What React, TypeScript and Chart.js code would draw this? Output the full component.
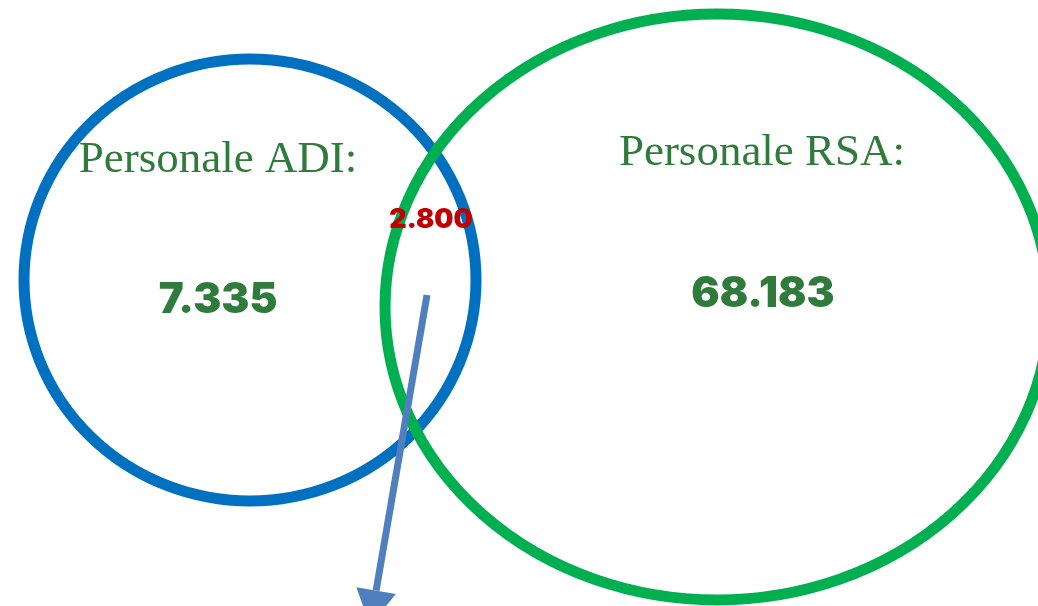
import React, { useEffect, useRef } from "react";
import { Chart, registerables } from "chart.js";

Chart.register(...registerables);

// ---- data ----
const setLabels = ["Personale ADI:", "Personale RSA:"];
const setCounts = [7335, 68183];
const overlapCount = 2800;
// ellipse geometry in chart units (x: 0..1038, y: 0..606 top-down)
const centerX = [250, 717];
const centerY = [280, 307];
const radiusX = [226, 332];
const radiusY = [221, 293];
const setColors = ["#0070C0", "#00B050"];
// label anchors
const titleX = [218, 762];
const titleY = [172, 165];
const countX = [218, 763];
const countY = [313, 307];
const overlapX = [431];
const overlapY = [228];
// arrow
const arrowStart = [427, 295];
const arrowEnd = [370, 626];

const fmt = (n: number) => String(n).replace(/\B(?=(\d{3})+(?!\d))/g, ".");

const vennPlugin = {
  id: "venn",
  afterDatasetsDraw(chart: any) {
    const ctx = chart.ctx;
    const xs = chart.scales.x;
    const ys = chart.scales.y;
    ctx.save();
    // ellipses
    for (let i = 0; i < centerX.length; i++) {
      const cx = xs.getPixelForValue(centerX[i]);
      const cy = ys.getPixelForValue(centerY[i]);
      const rx = Math.abs(xs.getPixelForValue(centerX[i] + radiusX[i]) - cx);
      const ry = Math.abs(ys.getPixelForValue(centerY[i] + radiusY[i]) - cy);
      ctx.beginPath();
      ctx.ellipse(cx, cy, rx, ry, 0, 0, Math.PI * 2);
      ctx.strokeStyle = setColors[i];
      ctx.lineWidth = 11;
      ctx.stroke();
    }
    // titles
    ctx.fillStyle = "#2E7B3B";
    ctx.textAlign = "center";
    ctx.textBaseline = "alphabetic";
    ctx.font = '45px "Liberation Serif", "Times New Roman", serif';
    for (let i = 0; i < setLabels.length; i++) {
      ctx.fillText(setLabels[i], xs.getPixelForValue(titleX[i]), ys.getPixelForValue(titleY[i]));
    }
    ctx.font = '900 42px Inter, "Open Sans", sans-serif';
    for (let i = 0; i < setCounts.length; i++) {
      ctx.fillText(fmt(setCounts[i]), xs.getPixelForValue(countX[i]), ys.getPixelForValue(countY[i]));
    }
    ctx.fillStyle = "#C00000";
    ctx.font = '900 27px Inter, "Open Sans", sans-serif';
    ctx.fillText(fmt(overlapCount), xs.getPixelForValue(overlapX[0]), ys.getPixelForValue(overlapY[0]));
    // arrow
    const x1 = xs.getPixelForValue(arrowStart[0]);
    const y1 = ys.getPixelForValue(arrowStart[1]);
    const x2 = xs.getPixelForValue(arrowEnd[0]);
    const y2 = ys.getPixelForValue(arrowEnd[1]);
    const ang = Math.atan2(y2 - y1, x2 - x1);
    const headLen = 36;
    const headHalf = 20;
    const bx = x2 - headLen * Math.cos(ang);
    const by = y2 - headLen * Math.sin(ang);
    ctx.strokeStyle = "#4F7FBD";
    ctx.fillStyle = "#4F7FBD";
    ctx.lineWidth = 7;
    ctx.beginPath();
    ctx.moveTo(x1, y1);
    ctx.lineTo(bx, by);
    ctx.stroke();
    ctx.beginPath();
    ctx.moveTo(x2, y2);
    ctx.lineTo(bx + headHalf * Math.sin(ang), by - headHalf * Math.cos(ang));
    ctx.lineTo(bx - headHalf * Math.sin(ang), by + headHalf * Math.cos(ang));
    ctx.closePath();
    ctx.fill();
    ctx.restore();
  },
};

export default function App() {
  const ref = useRef<HTMLCanvasElement | null>(null);
  useEffect(() => {
    if (!ref.current) return;
    const chart = new Chart(ref.current, {
      type: "scatter",
      data: {
        datasets: [
          {
            label: "centri",
            data: centerX.map((x, i) => ({ x, y: centerY[i] })),
            pointRadius: 0,
            pointHoverRadius: 0,
          },
        ],
      },
      options: {
        responsive: false,
        animation: false,
        layout: { padding: 0 },
        plugins: { legend: { display: false }, tooltip: { enabled: false } },
        events: [],
        scales: {
          x: { type: "linear", min: 0, max: 1038, display: false },
          y: { type: "linear", min: 0, max: 606, reverse: true, display: false },
        },
      },
      plugins: [vennPlugin],
    });
    return () => chart.destroy();
  }, []);
  return (
    <div style={{ position: "absolute", left: 0, top: 0, width: 1038, height: 606, background: "#fff" }}>
      <canvas ref={ref} width={1038} height={606} />
    </div>
  );
}
